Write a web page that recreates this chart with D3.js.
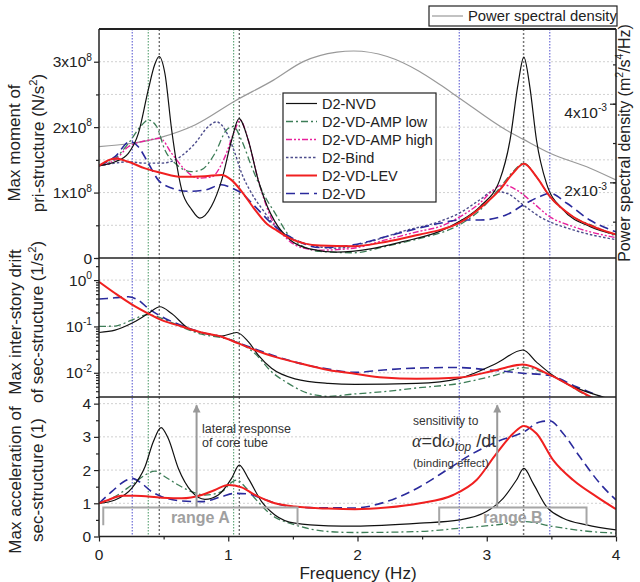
<!DOCTYPE html>
<html>
<head>
<meta charset="utf-8">
<script src="https://cdn.jsdelivr.net/npm/d3@7"></script>
<style>
  body { margin: 0; background: #fff; }
  svg { font-family: Arial, "Liberation Sans", sans-serif; }
</style>
</head>
<body>
<svg id="chart" width="640" height="582"></svg>
<script>
// ---- data (frequency in Hz, value) ----
// top panel: max moment of pri-structure, in 1e8 N/s^2
const momentNVD = [[0,1.41],[0.124,1.47],[0.227,1.6],[0.304,1.9],[0.381,2.57],[0.43,2.95],[0.465,3.08],[0.51,2.82],[0.562,1.96],[0.64,1.04],[0.717,0.74],[0.78,0.61],[0.87,0.79],[0.949,1.19],[1.026,1.8],[1.083,2.13],[1.155,1.8],[1.232,1.19],[1.3,0.8],[1.36,0.56],[1.477,0.28],[1.63,0.14],[1.84,0.09],[2.1,0.14],[2.35,0.25],[2.64,0.41],[2.79,0.56],[2.95,0.79],[3.1,1.19],[3.18,1.8],[3.243,2.67],[3.287,3.07],[3.333,2.62],[3.385,1.8],[3.462,1.14],[3.59,0.74],[3.8,0.48],[4,0.36]]
const momentAmpLow = [[0,1.41],[0.124,1.52],[0.227,1.75],[0.33,2.03],[0.381,2.11],[0.446,2.01],[0.51,1.65],[0.588,1.45],[0.717,1.32],[0.794,1.35],[0.897,1.6],[0.988,1.96],[1.039,2.01],[1.103,1.8],[1.18,1.4],[1.284,0.94],[1.361,0.69],[1.477,0.33],[1.71,0.1],[1.967,0.08],[2.225,0.18],[2.483,0.3],[2.637,0.38],[2.792,0.51],[2.947,0.73],[3.1,1.07],[3.204,1.32],[3.287,1.45],[3.385,1.24],[3.488,0.94],[3.668,0.63],[3.849,0.47],[4,0.33]]
const momentAmpHigh = [[0,1.41],[0.124,1.5],[0.227,1.7],[0.381,1.8],[0.472,1.83],[0.562,1.6],[0.665,1.35],[0.768,1.22],[0.871,1.24],[0.975,1.55],[1.052,1.96],[1.09,2.11],[1.155,1.8],[1.232,1.19],[1.335,0.6],[1.45,0.3],[1.58,0.15],[1.71,0.12],[1.967,0.15],[2.225,0.28],[2.483,0.41],[2.637,0.48],[2.792,0.63],[2.947,0.84],[3.05,1.04],[3.127,1.12],[3.23,1.04],[3.36,0.84],[3.488,0.63],[3.668,0.48],[4,0.31]]
const momentBind = [[0,1.41],[0.124,1.45],[0.227,1.47],[0.356,1.45],[0.485,1.45],[0.588,1.5],[0.742,1.75],[0.846,2.01],[0.91,2.08],[0.975,1.96],[1.052,1.6],[1.103,1.3],[1.18,0.99],[1.284,0.69],[1.323,0.58],[1.58,0.23],[1.838,0.15],[2.096,0.25],[2.353,0.41],[2.637,0.56],[2.792,0.69],[2.947,0.89],[3.05,1.02],[3.153,0.99],[3.282,0.81],[3.411,0.63],[3.668,0.43],[4,0.28]]
const momentLEV = [[0,1.41],[0.124,1.52],[0.227,1.47],[0.356,1.37],[0.485,1.3],[0.64,1.24],[0.82,1.25],[0.949,1.27],[1.026,1.19],[1.103,1.02],[1.206,0.74],[1.3,0.52],[1.36,0.44],[1.477,0.3],[1.71,0.19],[1.967,0.18],[2.225,0.25],[2.483,0.36],[2.64,0.43],[2.792,0.54],[2.947,0.76],[3.1,1.04],[3.204,1.3],[3.287,1.44],[3.385,1.24],[3.488,0.94],[3.668,0.63],[3.849,0.46],[4,0.36]]
const momentVD = [[0,1.41],[0.124,1.55],[0.24,1.78],[0.304,1.7],[0.381,1.45],[0.459,1.19],[0.562,1.07],[0.69,1.02],[0.82,1.04],[0.949,1.12],[1.026,1.07],[1.103,0.99],[1.206,0.79],[1.335,0.53],[1.5,0.3],[1.71,0.16],[1.967,0.2],[2.225,0.33],[2.483,0.46],[2.637,0.53],[2.792,0.58],[2.947,0.58],[3.153,0.66],[3.282,0.81],[3.411,0.94],[3.488,0.99],[3.617,0.84],[3.797,0.58],[4,0.4]]
// power spectral density, in 1e-3 m^2/s^4/Hz
const psd = [[0,2.91],[0.485,3.15],[0.742,3.46],[1.052,4.07],[1.35,4.6],[1.58,5.07],[1.84,5.31],[1.97,5.34],[2.23,5.2],[2.48,4.82],[2.64,4.48],[2.79,4.14],[3.15,3.33],[3.28,3.1],[3.49,2.74],[3.8,2.36],[4,2.06]]

// middle panel: max inter-story drift of sec-structure (1/s^2)
const driftNVD = [[0,0.074],[0.124,0.083],[0.253,0.117],[0.381,0.19],[0.472,0.266],[0.562,0.19],[0.69,0.091],[0.82,0.071],[0.949,0.062],[1.065,0.074],[1.155,0.047],[1.232,0.024],[1.335,0.0125],[1.516,0.0074],[1.774,0.0059],[1.98,0.0056],[2.457,0.0059],[2.79,0.0076],[3.076,0.016],[3.28,0.031],[3.385,0.017],[3.488,0.0098],[3.9,0.003],[4,0.0025]]
const driftAmpLow = [[0,0.1],[0.124,0.102],[0.253,0.137],[0.381,0.18],[0.485,0.15],[0.64,0.097],[0.794,0.068],[0.949,0.057],[1.078,0.045],[1.206,0.026],[1.335,0.0105],[1.464,0.0059],[1.619,0.0036],[1.774,0.0031],[1.98,0.0035],[2.2,0.0039],[2.457,0.0047],[2.79,0.0059],[3.076,0.009],[3.28,0.0129],[3.488,0.009],[3.797,0.003],[4,0.0018]]
const driftLEV = [[0,0.92],[0.124,0.52],[0.253,0.3],[0.381,0.19],[0.485,0.137],[0.64,0.1],[0.794,0.074],[0.949,0.06],[1.078,0.043],[1.206,0.031],[1.361,0.022],[1.516,0.017],[1.774,0.0115],[1.98,0.0095],[2.2,0.0079],[2.457,0.0074],[2.79,0.0079],[3.076,0.0115],[3.28,0.015],[3.488,0.009],[3.797,0.0031],[4,0.0018]]
const driftVD = [[0,0.39],[0.124,0.415],[0.227,0.437],[0.304,0.37],[0.381,0.245],[0.485,0.162],[0.64,0.105],[0.794,0.074],[0.949,0.06],[1.078,0.044],[1.206,0.033],[1.361,0.023],[1.516,0.017],[1.774,0.012],[1.98,0.0102],[2.2,0.0115],[2.457,0.0126],[2.77,0.013],[3.024,0.0115],[3.28,0.0098],[3.488,0.0087],[3.694,0.005],[3.9,0.0029],[4,0.0022]]

// bottom panel: max acceleration of sec-structure (1)
const accNVD = [[0,1.0],[0.124,1.1],[0.253,1.45],[0.356,2.1],[0.42,2.85],[0.48,3.28],[0.536,2.95],[0.614,2.05],[0.717,1.35],[0.82,1.12],[0.923,1.25],[1.026,1.75],[1.085,2.15],[1.155,1.75],[1.258,1.05],[1.361,0.65],[1.516,0.4],[1.774,0.32],[1.98,0.31],[2.483,0.4],[2.792,0.5],[2.998,0.75],[3.127,1.15],[3.23,1.7],[3.287,2.05],[3.359,1.6],[3.462,0.9],[3.591,0.55],[3.772,0.35],[4,0.2]]
const accAmpLow = [[0,1.0],[0.124,1.2],[0.253,1.55],[0.356,1.85],[0.433,1.97],[0.51,1.8],[0.614,1.55],[0.717,1.35],[0.82,1.25],[0.949,1.35],[1.026,1.63],[1.065,1.7],[1.129,1.5],[1.206,1.15],[1.335,0.65],[1.516,0.35],[1.774,0.15],[1.98,0.12],[2.483,0.15],[2.79,0.25],[3.076,0.35],[3.287,0.45],[3.514,0.3],[3.8,0.15],[4,0.1]]
const accLEV = [[0,1.0],[0.072,1.1],[0.175,1.23],[0.278,1.23],[0.485,1.17],[0.64,1.15],[0.794,1.25],[0.897,1.4],[1.0,1.55],[1.103,1.48],[1.206,1.25],[1.361,1.0],[1.516,0.9],[1.774,0.84],[1.98,0.82],[2.225,0.87],[2.483,1.0],[2.74,1.25],[2.921,1.7],[3.076,2.5],[3.204,3.1],[3.287,3.33],[3.385,3.1],[3.514,2.3],[3.668,1.7],[3.849,1.2],[4,0.82]]
const accVD = [[0,1.0],[0.098,1.35],[0.2,1.67],[0.253,1.75],[0.33,1.6],[0.407,1.35],[0.485,1.2],[0.64,1.07],[0.794,1.05],[0.949,1.2],[1.052,1.3],[1.155,1.28],[1.258,1.15],[1.413,0.95],[1.619,0.87],[1.98,0.86],[2.225,1.05],[2.483,1.5],[2.69,2.0],[2.87,2.45],[3.076,2.85],[3.287,3.15],[3.411,3.45],[3.488,3.48],[3.591,3.1],[3.72,2.4],[3.875,1.6],[4,1.1]]

// reference frequencies (vertical dotted lines)
const refBlue = [0.257, 2.787, 3.488]
const refGreen = [0.381, 1.042]
const refBlack = [0.466, 1.085]
const refGray = [3.285]

// tick values and labels
const freqTicks = [0, 1, 2, 3, 4]
const freqMinor = [0.5, 1.5, 2.5, 3.5]
const momentTicks = [0, 1, 2, 3]
const momentMinor = [0.5, 1.5, 2.5]
const momentLabels = [["0", ""], ["1x10", "8"], ["2x10", "8"], ["3x10", "8"]]
const driftTicks = [1, 0.1, 0.01]
const driftLabels = [["10", "0"], ["10", "-1"], ["10", "-2"]]
const accTicks = [0, 1, 2, 3, 4]
const accMinor = [0.5, 1.5, 2.5, 3.5]
const psdTicks = [1, 2, 3, 4, 5]
const psdLabelTicks = [2, 4]
const psdLabels = [["2x10", "-3"], ["4x10", "-3"]]

const legendNames = ["D2-NVD", "D2-VD-AMP low", "D2-VD-AMP high", "D2-Bind", "D2-VD-LEV", "D2-VD"]
const drawOrder = ["D2-Bind", "D2-VD-AMP high", "D2-VD-AMP low", "D2-VD", "D2-NVD", "D2-VD-LEV"]

const styles = {
  "D2-NVD": { color: "#111", width: 1.2, dash: null },
  "D2-VD-AMP low": { color: "#3d7d57", width: 1.3, dash: "7,3,2,3" },
  "D2-VD-AMP high": { color: "#e8209c", width: 1.4, dash: "6,2,2,2,2,2" },
  "D2-Bind": { color: "#4d4d8c", width: 1.4, dash: "2.5,2" },
  "D2-VD-LEV": { color: "#f02020", width: 2, dash: null },
  "D2-VD": { color: "#2a2a9c", width: 1.6, dash: "9,5" },
}

const pL = 99, pR = 616, pT = 29, split1 = 258, split2 = 397, pB = 536.5

const svg = d3.select("#chart")
const x = d3.scaleLinear().domain([0, 4]).range([pL, pR])
const yMoment = d3.scaleLinear().domain([0, 3.5]).range([split1, pT])
const yPsd = d3.scaleLinear().domain([0.076, 5.9]).range([split1, pT])
const yDrift = d3.scaleLog().domain([0.003, 3]).range([split2, split1])
const yAcc = d3.scaleLinear().domain([0, 4.2]).range([pB, split2])

const panels = [
  { id: "top", y: yMoment, y0: pT, y1: split1, grid: [0.5, 1, 1.5, 2, 2.5, 3],
    data: { "D2-NVD": momentNVD, "D2-VD-AMP low": momentAmpLow, "D2-VD-AMP high": momentAmpHigh,
            "D2-Bind": momentBind, "D2-VD-LEV": momentLEV, "D2-VD": momentVD } },
  { id: "mid", y: yDrift, y0: split1, y1: split2, grid: [1, 0.1, 0.01],
    data: { "D2-NVD": driftNVD, "D2-VD-AMP low": driftAmpLow, "D2-VD-LEV": driftLEV, "D2-VD": driftVD } },
  { id: "bot", y: yAcc, y0: split2, y1: pB, grid: [1, 2, 3, 4],
    data: { "D2-NVD": accNVD, "D2-VD-AMP low": accAmpLow, "D2-VD-LEV": accLEV, "D2-VD": accVD } },
]

// text with super / subscripts
function rich(t, parts, size, subShift = 0.3){
  let shift = 0
  parts.forEach(p => {
    const s = t.append("tspan").text(p.t)
    const target = p.sup ? -size * 0.42 : p.sub ? size * subShift : 0
    s.attr("dy", target - shift)
    shift = target
    if (p.sup || p.sub) s.attr("font-size", size * 0.66)
    if (p.it) s.attr("font-style", "italic")
    if (p.serif) s.attr("font-family", "'Liberation Serif','Times New Roman',serif")
  })
}

const defs = svg.append("defs")
panels.forEach(p => {
  defs.append("clipPath").attr("id", "clip-" + p.id)
    .append("rect").attr("x", pL).attr("y", p.y0).attr("width", pR - pL).attr("height", p.y1 - p.y0)
})
defs.append("marker").attr("id", "arrow").attr("viewBox", "0 0 10 10")
  .attr("refX", 9).attr("refY", 5).attr("markerWidth", 5).attr("markerHeight", 4)
  .attr("markerUnits", "strokeWidth").attr("orient", "auto")
  .append("path").attr("d", "M0,0 L10,5 L0,10 z").attr("fill", "#999")

// gridlines
panels.forEach(p => {
  svg.append("g").selectAll("line").data(p.grid).enter().append("line")
    .attr("x1", pL).attr("x2", pR)
    .attr("y1", d => p.y(d)).attr("y2", d => p.y(d))
    .attr("stroke", "#c4c4c4").attr("stroke-width", 0.8).attr("stroke-dasharray", "2,2")
})

// vertical reference lines
function refLines(vals, color, w, dash){
  svg.append("g").selectAll("line").data(vals).enter().append("line")
    .attr("x1", d => x(d)).attr("x2", d => x(d)).attr("y1", pT).attr("y2", pB)
    .attr("stroke", color).attr("stroke-width", w).attr("stroke-dasharray", dash)
}
refLines(refBlue, "#3a3ac8", 0.9, "1.5,1.5")
refLines(refGreen, "#2f8a4f", 0.9, "1.5,1.5")
refLines(refBlack, "#222", 0.9, "2,2")
refLines(refGray, "#777", 1.5, "2,2")

// power spectral density (right axis)
svg.append("path").datum(psd)
  .attr("clip-path", "url(#clip-top)")
  .attr("fill", "none").attr("stroke", "#999").attr("stroke-width", 1.2)
  .attr("d", d3.line().x(d => x(d[0])).y(d => yPsd(d[1])).curve(d3.curveMonotoneX))

// curves
panels.forEach(p => {
  const line = d3.line().x(d => x(d[0])).y(d => p.y(d[1])).curve(d3.curveMonotoneX)
  const g = svg.append("g").attr("clip-path", `url(#clip-${p.id})`)
  drawOrder.filter(n => p.data[n]).forEach(n => {
    const s = styles[n]
    g.append("path").datum(p.data[n])
      .attr("fill", "none").attr("stroke", s.color).attr("stroke-width", s.width)
      .attr("stroke-dasharray", s.dash).attr("d", line)
  })
})

// frame
const frame = svg.append("g").attr("stroke", "#222").attr("fill", "none")
frame.append("line").attr("x1", pL).attr("x2", pR).attr("y1", pT).attr("y2", pT).attr("stroke-width", 2)
frame.append("line").attr("x1", pL).attr("x2", pR).attr("y1", split1).attr("y2", split1).attr("stroke-width", 1.5)
frame.append("line").attr("x1", pL).attr("x2", pR).attr("y1", split2).attr("y2", split2).attr("stroke-width", 1.5)
frame.append("line").attr("x1", pL).attr("x2", pR).attr("y1", pB).attr("y2", pB).attr("stroke-width", 1.5)
frame.append("line").attr("x1", pL).attr("x2", pL).attr("y1", pT).attr("y2", pB).attr("stroke-width", 1.5)
frame.append("line").attr("x1", pR).attr("x2", pR).attr("y1", pT).attr("y2", pB).attr("stroke-width", 1.5)

// axes (ticks only, labels drawn separately)
function ticks(axis){
  const g = svg.append("g").call(axis)
  g.select(".domain").remove()
  g.selectAll("line").attr("stroke", "#222").attr("stroke-width", 1.2)
  return g
}
ticks(d3.axisBottom(x).tickValues(freqTicks).tickSize(5).tickFormat("")).attr("transform", `translate(0,${pB})`)
ticks(d3.axisBottom(x).tickValues(freqMinor).tickSize(3).tickFormat("")).attr("transform", `translate(0,${pB})`)
ticks(d3.axisLeft(yMoment).tickValues(momentTicks).tickSize(5).tickFormat("")).attr("transform", `translate(${pL},0)`)
ticks(d3.axisLeft(yMoment).tickValues(momentMinor).tickSize(3).tickFormat("")).attr("transform", `translate(${pL},0)`)
const driftMinor = []
;[0.001, 0.01, 0.1, 1].forEach(b => { for (let k = 2; k <= 9; k++){ const v = b * k; if (v >= 0.003 && v <= 3) driftMinor.push(v) } })
ticks(d3.axisLeft(yDrift).tickValues(driftTicks).tickSize(5).tickFormat("")).attr("transform", `translate(${pL},0)`)
ticks(d3.axisLeft(yDrift).tickValues(driftMinor).tickSize(3).tickFormat("")).attr("transform", `translate(${pL},0)`)
ticks(d3.axisLeft(yAcc).tickValues(accTicks).tickSize(5).tickFormat("")).attr("transform", `translate(${pL},0)`)
ticks(d3.axisLeft(yAcc).tickValues(accMinor).tickSize(3).tickFormat("")).attr("transform", `translate(${pL},0)`)
// right axis ticks point inward
ticks(d3.axisRight(yPsd).tickValues(psdTicks).tickSize(-3).tickFormat("")).attr("transform", `translate(${pR},0)`)
ticks(d3.axisRight(yPsd).tickValues(psdLabelTicks).tickSize(-6).tickFormat("")).attr("transform", `translate(${pR},0)`)

// tick labels
const fs = 15.5
freqTicks.forEach(v => {
  svg.append("text").attr("x", x(v)).attr("y", 559.5).attr("text-anchor", "middle")
    .attr("font-size", fs).attr("fill", "#222").text(v)
})
function yLabels(vals, labels, scale, xPos, offset){
  vals.forEach((v, i) => {
    const t = svg.append("text").attr("x", xPos).attr("y", scale(v) + offset)
      .attr("text-anchor", "end").attr("font-size", fs).attr("fill", "#222")
    const parts = [{ t: labels[i][0] }]
    if (labels[i][1]) parts.push({ t: labels[i][1], sup: true })
    rich(t, parts, fs)
  })
}
yLabels(momentTicks, momentLabels, yMoment, 92, 5.5)
yLabels(driftTicks, driftLabels, yDrift, 92, 5.5)
yLabels(accTicks, accTicks.map(v => [String(v), ""]), yAcc, 91, 5.5)
yLabels(psdLabelTicks, psdLabels, yPsd, 607, 14)

// axis titles
function vTitle(lines, cx, cy, size){
  lines.forEach((parts, i) => {
    const t = svg.append("text")
      .attr("transform", `translate(${cx[i]},${cy}) rotate(-90)`)
      .attr("text-anchor", "middle").attr("dy", "0.35em")
      .attr("font-size", size).attr("fill", "#222")
    rich(t, parts, size)
  })
}
vTitle([[{ t: "Max moment of" }], [{ t: "pri-structure (N/s" }, { t: "2", sup: true }, { t: ")" }]], [20, 44], 143, 17)
vTitle([[{ t: "Max inter-story drift" }], [{ t: "of sec-structure (1/s" }, { t: "2", sup: true }, { t: ")" }]], [21, 43], 322, 17)
vTitle([[{ t: "Max acceleration of" }], [{ t: "sec-structure (1)" }]], [21, 43], 480, 17)
vTitle([[{ t: "Power spectral density (m" }, { t: "2", sup: true }, { t: "/s" }, { t: "4", sup: true }, { t: "/Hz)" }]], [630], 143, 16)

svg.append("text").attr("x", 358).attr("y", 579).attr("text-anchor", "middle")
  .attr("font-size", 17).attr("fill", "#222").text("Frequency (Hz)")

// legend
const lg = svg.append("g")
lg.append("rect").attr("x", 283).attr("y", 93).attr("width", 153).attr("height", 109)
  .attr("fill", "#fff").attr("stroke", "#222").attr("stroke-width", 1.2)
legendNames.forEach((n, i) => {
  const yy = 103.5 + i * 18
  const s = styles[n]
  lg.append("line").attr("x1", 286).attr("x2", 317).attr("y1", yy).attr("y2", yy)
    .attr("stroke", s.color).attr("stroke-width", s.width).attr("stroke-dasharray", s.dash)
  lg.append("text").attr("x", 322).attr("y", yy).attr("dy", "0.35em")
    .attr("font-size", 14.5).attr("fill", "#222").text(n)
})
const pl = svg.append("g")
pl.append("rect").attr("x", 429).attr("y", 6).attr("width", 188).attr("height", 20)
  .attr("fill", "#fff").attr("stroke", "#222").attr("stroke-width", 1.2)
pl.append("line").attr("x1", 432).attr("x2", 463).attr("y1", 16).attr("y2", 16)
  .attr("stroke", "#999").attr("stroke-width", 1.2)
pl.append("text").attr("x", 468).attr("y", 16).attr("dy", "0.35em")
  .attr("font-size", 14.8).attr("fill", "#222").text("Power spectral density")

// annotations in the bottom panel
const ranges = [
  { x1: 0.033, x2: 1.536, label: "range A", arrow: 0.755 },
  { x1: 2.632, x2: 3.772, label: "range B", arrow: 3.081 },
]
ranges.forEach(r => {
  svg.append("path")
    .attr("d", `M${x(r.x1)},${yAcc(0.34)} V${yAcc(0.87)} H${x(r.x2)} V${yAcc(0.32)}`)
    .attr("fill", "none").attr("stroke", "#a6a6a6").attr("stroke-width", 2)
  svg.append("line").attr("x1", x(r.arrow)).attr("x2", x(r.arrow))
    .attr("y1", yAcc(0.87)).attr("y2", yAcc(3.95))
    .attr("stroke", "#999").attr("stroke-width", 2).attr("marker-end", "url(#arrow)")
  svg.append("text").attr("x", (x(r.x1) + x(r.x2)) / 2).attr("y", 517).attr("dy", "0.35em")
    .attr("text-anchor", "middle").attr("font-size", 16).attr("font-weight", "bold")
    .attr("fill", "#a0a0a0").text(r.label)
})
svg.append("text").attr("x", 202).attr("y", 429).attr("dy", "0.35em")
  .attr("font-size", 12.5).attr("fill", "#333").text("lateral response")
svg.append("text").attr("x", 202).attr("y", 443).attr("dy", "0.35em")
  .attr("font-size", 12.5).attr("fill", "#333").text("of core tube")
svg.append("text").attr("x", 413).attr("y", 421).attr("dy", "0.35em")
  .attr("font-size", 12).attr("fill", "#333").text("sensitivity to")
const alpha = svg.append("text").attr("x", 412).attr("y", 447)
  .attr("font-size", 18).attr("fill", "#333")
rich(alpha, [{ t: "α", it: true, serif: true }, { t: "=d" }, { t: "ω", it: true, serif: true },
  { t: "top", sub: true, it: true }, { t: " /d" }, { t: "t" }], 18, 0.2)
svg.append("text").attr("x", 413).attr("y", 463).attr("dy", "0.35em")
  .attr("font-size", 11.5).attr("fill", "#333").text("(binding effect)")
</script>
</body>
</html>
